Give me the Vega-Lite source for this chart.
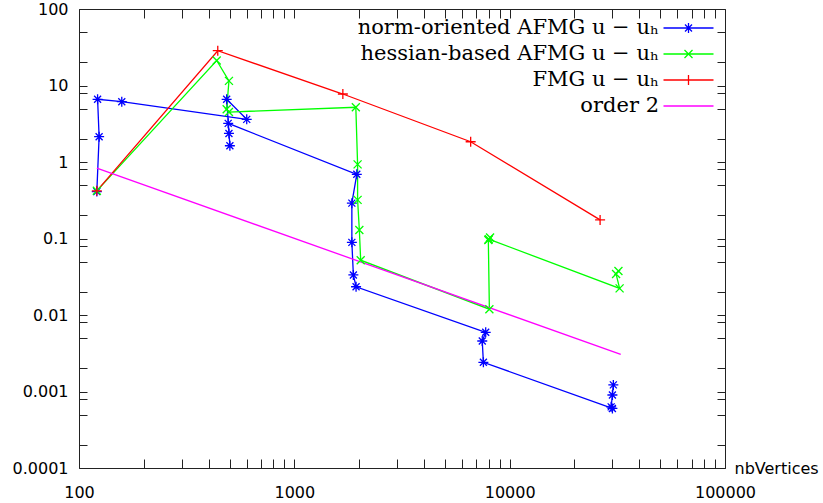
{
  "$schema": "https://vega.github.io/schema/vega-lite/v6.json",
  "width": 646,
  "height": 459,
  "autosize": {"type": "none"},
  "padding": {"left": 79, "top": 9, "right": 98, "bottom": 35},
  "background": "white",
  "config": {"view": {"stroke": null}},
  "data": {"values": [
    {"s": "norm-oriented AFMG u − uₕ", "i": 1, "x": 121, "y": 0.41},
    {"s": "norm-oriented AFMG u − uₕ", "i": 2, "x": 124, "y": 2.14},
    {"s": "norm-oriented AFMG u − uₕ", "i": 3, "x": 122, "y": 6.6},
    {"s": "norm-oriented AFMG u − uₕ", "i": 4, "x": 158, "y": 6.14},
    {"s": "norm-oriented AFMG u − uₕ", "i": 5, "x": 601, "y": 3.61},
    {"s": "norm-oriented AFMG u − uₕ", "i": 6, "x": 485, "y": 6.6},
    {"s": "norm-oriented AFMG u − uₕ", "i": 7, "x": 502, "y": 1.63},
    {"s": "norm-oriented AFMG u − uₕ", "i": 8, "x": 497, "y": 2.36},
    {"s": "norm-oriented AFMG u − uₕ", "i": 9, "x": 493, "y": 3.2},
    {"s": "norm-oriented AFMG u − uₕ", "i": 10, "x": 1950, "y": 0.69},
    {"s": "norm-oriented AFMG u − uₕ", "i": 11, "x": 1850, "y": 0.29},
    {"s": "norm-oriented AFMG u − uₕ", "i": 12, "x": 1850, "y": 0.089},
    {"s": "norm-oriented AFMG u − uₕ", "i": 13, "x": 1880, "y": 0.0334},
    {"s": "norm-oriented AFMG u − uₕ", "i": 14, "x": 1935, "y": 0.0234},
    {"s": "norm-oriented AFMG u − uₕ", "i": 15, "x": 7740, "y": 0.00594},
    {"s": "norm-oriented AFMG u − uₕ", "i": 16, "x": 7460, "y": 0.00457},
    {"s": "norm-oriented AFMG u − uₕ", "i": 17, "x": 7550, "y": 0.00241},
    {"s": "norm-oriented AFMG u − uₕ", "i": 18, "x": 30000, "y": 0.0006},
    {"s": "norm-oriented AFMG u − uₕ", "i": 19, "x": 29600, "y": 0.00063},
    {"s": "norm-oriented AFMG u − uₕ", "i": 20, "x": 30000, "y": 0.0009},
    {"s": "norm-oriented AFMG u − uₕ", "i": 21, "x": 30300, "y": 0.00122},
    {"s": "hessian-based AFMG u − uₕ", "i": 1, "x": 121, "y": 0.42},
    {"s": "hessian-based AFMG u − uₕ", "i": 2, "x": 436, "y": 21.2},
    {"s": "hessian-based AFMG u − uₕ", "i": 3, "x": 497, "y": 11.5},
    {"s": "hessian-based AFMG u − uₕ", "i": 4, "x": 485, "y": 4.89},
    {"s": "hessian-based AFMG u − uₕ", "i": 5, "x": 497, "y": 4.5},
    {"s": "hessian-based AFMG u − uₕ", "i": 6, "x": 1930, "y": 5.19},
    {"s": "hessian-based AFMG u − uₕ", "i": 7, "x": 1967, "y": 0.93},
    {"s": "hessian-based AFMG u − uₕ", "i": 8, "x": 1967, "y": 0.32},
    {"s": "hessian-based AFMG u − uₕ", "i": 9, "x": 2004, "y": 0.129},
    {"s": "hessian-based AFMG u − uₕ", "i": 10, "x": 2033, "y": 0.052},
    {"s": "hessian-based AFMG u − uₕ", "i": 11, "x": 8050, "y": 0.0119},
    {"s": "hessian-based AFMG u − uₕ", "i": 12, "x": 7960, "y": 0.0955},
    {"s": "hessian-based AFMG u − uₕ", "i": 13, "x": 8110, "y": 0.103},
    {"s": "hessian-based AFMG u − uₕ", "i": 14, "x": 8000, "y": 0.098},
    {"s": "hessian-based AFMG u − uₕ", "i": 15, "x": 32400, "y": 0.0223},
    {"s": "hessian-based AFMG u − uₕ", "i": 16, "x": 31200, "y": 0.0344},
    {"s": "hessian-based AFMG u − uₕ", "i": 17, "x": 32000, "y": 0.0376},
    {"s": "FMG u − uₕ", "i": 1, "x": 121, "y": 0.42},
    {"s": "FMG u − uₕ", "i": 2, "x": 441, "y": 28.5},
    {"s": "FMG u − uₕ", "i": 3, "x": 1680, "y": 7.74},
    {"s": "FMG u − uₕ", "i": 4, "x": 6590, "y": 1.84},
    {"s": "FMG u − uₕ", "i": 5, "x": 26300, "y": 0.175},
    {"s": "order 2", "i": 1, "x": 121, "y": 0.83},
    {"s": "order 2", "i": 2, "x": 32800, "y": 0.00306}
  ]},
  "resolve": {"axis": {"x": "independent", "y": "independent"}},
  "layer": [
    {
      "mark": {"type": "line", "strokeWidth": 1.3},
      "encoding": {
        "x": {
          "field": "x", "type": "quantitative",
          "scale": {"type": "log", "domain": [100, 100000], "nice": false},
          "axis": {
            "orient": "bottom",
            "values": [100,200,300,400,500,600,700,800,900,1000,2000,3000,4000,5000,6000,7000,8000,9000,10000,20000,30000,40000,50000,60000,70000,80000,90000,100000],
            "format": "~g",
            "labelExpr": "abs(log(datum.value)/LN10 - round(log(datum.value)/LN10)) < 0.01 ? datum.label : ''",
            "tickSize": -9, "labelPadding": 25, "labelFlush": false, "labelOverlap": false,
            "labelFont": "DejaVu Sans", "labelFontSize": 16, "labelColor": "#000",
            "domainColor": "#222", "tickColor": "#222", "grid": false,
            "title": "nbVertices", "titleX": 655, "titleY": 0, "titleAlign": "left", "titleBaseline": "middle",
            "titleFont": "DejaVu Sans", "titleFontSize": 16, "titleFontWeight": "normal", "titleColor": "#000",
            "encode": {"ticks": {"update": {"y2": {"signal": "abs(log(datum.value)/LN10 - round(log(datum.value)/LN10)) < 0.01 ? -9 : -5"}}}}
          }
        },
        "y": {
          "field": "y", "type": "quantitative",
          "scale": {"type": "log", "domain": [0.0001, 100], "nice": false},
          "axis": {
            "orient": "left",
            "values": [0.0001,0.0002,0.0005,0.0008,0.001,0.002,0.005,0.008,0.01,0.02,0.05,0.08,0.1,0.2,0.5,0.8,1,2,5,8,10,20,50,100],
            "format": "~g",
            "labelExpr": "abs(log(datum.value)/LN10 - round(log(datum.value)/LN10)) < 0.01 ? datum.label : ''",
            "tickSize": -8, "labelPadding": 19, "labelFlush": false, "labelOverlap": false,
            "labelFont": "DejaVu Sans", "labelFontSize": 16, "labelColor": "#000",
            "domainColor": "#222", "tickColor": "#222", "grid": false, "title": null,
            "encode": {"ticks": {"update": {"x2": {"signal": "abs(log(datum.value)/LN10 - round(log(datum.value)/LN10)) < 0.01 ? 8 : 4"}}}}
          }
        },
        "color": {
          "field": "s", "type": "nominal",
          "scale": {"domain": ["norm-oriented AFMG u − uₕ", "hessian-based AFMG u − uₕ", "FMG u − uₕ", "order 2"], "range": ["#0000ff", "#00ff00", "#ff0000", "#ff00ff"]},
          "legend": {
            "title": null, "orient": "none", "legendX": 599, "legendY": 8.5, "padding": 0,
            "labelAlign": "right", "labelOffset": -40, "labelFont": "DejaVu Serif", "labelFontSize": 21, "labelColor": "#000", "labelLimit": 500,
            "symbolSize": 100, "symbolStrokeWidth": 1.3, "rowPadding": 4,
            "encode": {"symbols": {"update": {"shape": {"signal": "datum.value == 'norm-oriented AFMG u − uₕ' ? 'M-5,0L5,0M0,-1L0,1M-0.7,-0.7L0.7,0.7M-0.7,0.7L0.7,-0.7' : datum.value == 'hessian-based AFMG u − uₕ' ? 'M-5,0L5,0M-0.8,-0.8L0.8,0.8M-0.8,0.8L0.8,-0.8' : datum.value == 'FMG u − uₕ' ? 'M-5,0L5,0M0,-1L0,1' : 'M-5,0L5,0'"}, "fill": {"value": "transparent"}}}}
          }
        },
        "order": {"field": "i", "type": "quantitative"}
      }
    },
    {
      "transform": [{"filter": "datum.s != 'order 2'"}],
      "mark": {"type": "point", "filled": false, "strokeWidth": 1.3, "size": 100, "opacity": 1},
      "encoding": {
        "x": {
          "field": "x", "type": "quantitative",
          "scale": {"type": "log", "domain": [100, 100000], "nice": false},
          "axis": {
            "orient": "top",
            "values": [100,200,300,400,500,600,700,800,900,1000,2000,3000,4000,5000,6000,7000,8000,9000,10000,20000,30000,40000,50000,60000,70000,80000,90000,100000],
            "labels": false, "tickSize": -9, "domainColor": "#222", "tickColor": "#222", "grid": false, "title": null,
            "encode": {"ticks": {"update": {"y2": {"signal": "abs(log(datum.value)/LN10 - round(log(datum.value)/LN10)) < 0.01 ? 9 : 5"}}}}
          }
        },
        "y": {
          "field": "y", "type": "quantitative",
          "scale": {"type": "log", "domain": [0.0001, 100], "nice": false},
          "axis": {
            "orient": "right",
            "values": [0.0001,0.0002,0.0005,0.0008,0.001,0.002,0.005,0.008,0.01,0.02,0.05,0.08,0.1,0.2,0.5,0.8,1,2,5,8,10,20,50,100],
            "labels": false, "tickSize": -8, "domainColor": "#222", "tickColor": "#222", "grid": false, "title": null,
            "encode": {"ticks": {"update": {"x2": {"signal": "abs(log(datum.value)/LN10 - round(log(datum.value)/LN10)) < 0.01 ? -8 : -4"}}}}
          }
        },
        "color": {"field": "s", "type": "nominal", "legend": null},
        "shape": {
          "field": "s", "type": "nominal", "legend": null,
          "scale": {"domain": ["norm-oriented AFMG u − uₕ", "hessian-based AFMG u − uₕ", "FMG u − uₕ"], "range": ["M-1,0L1,0M0,-1L0,1M-0.7,-0.7L0.7,0.7M-0.7,0.7L0.7,-0.7", "M-0.8,-0.8L0.8,0.8M-0.8,0.8L0.8,-0.8", "M-1,0L1,0M0,-1L0,1"]}
        }
      }
    }
  ]
}
